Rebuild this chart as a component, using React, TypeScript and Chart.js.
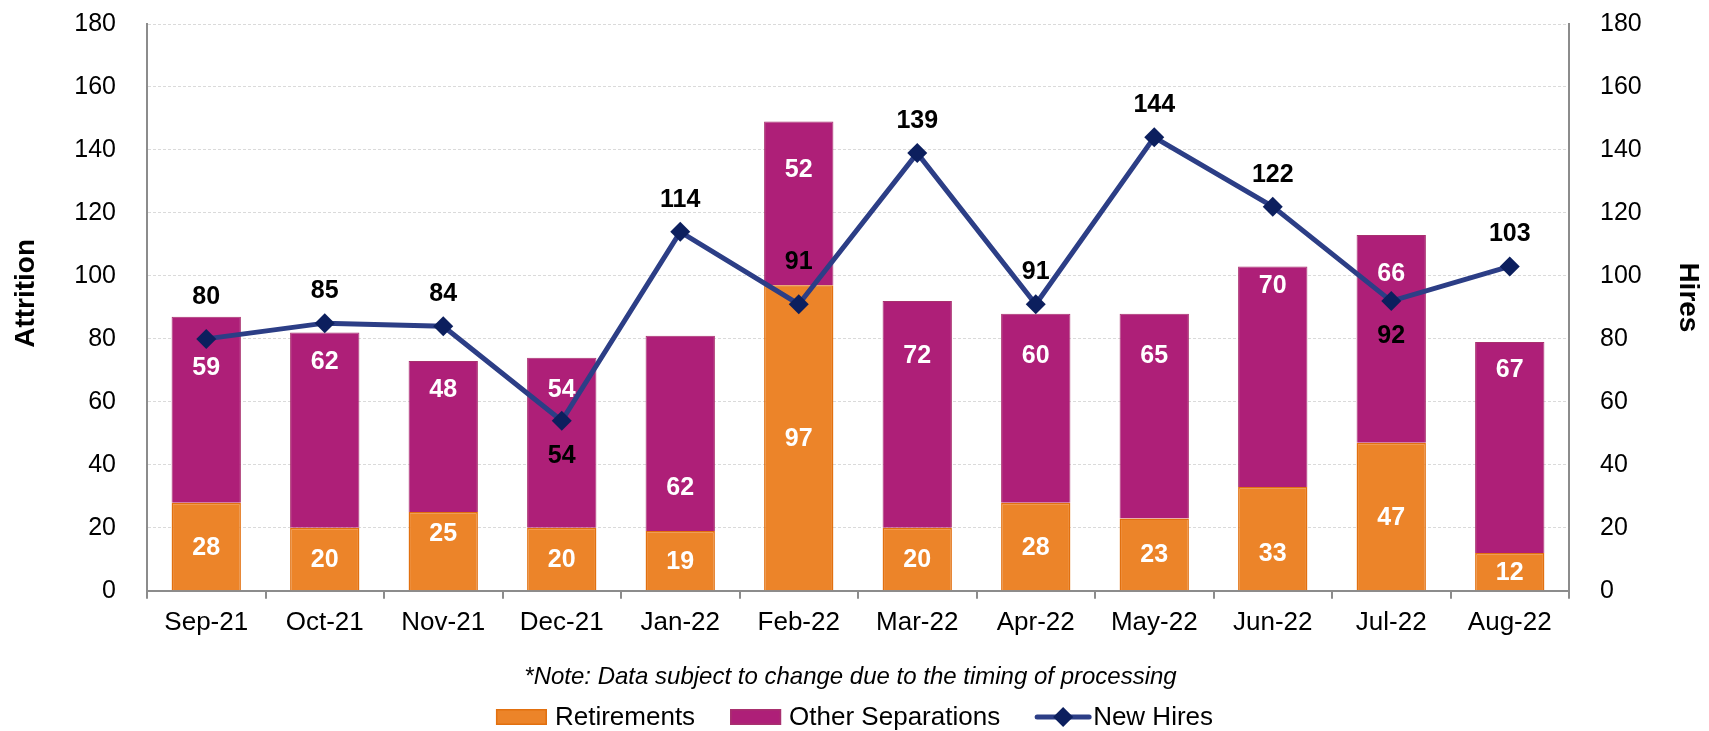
import React, { useEffect, useRef } from 'react';
import { Chart, registerables } from 'chart.js';

Chart.register(...registerables);

// ---- data ----
const categories = ['Sep-21', 'Oct-21', 'Nov-21', 'Dec-21', 'Jan-22', 'Feb-22', 'Mar-22', 'Apr-22', 'May-22', 'Jun-22', 'Jul-22', 'Aug-22'];
const retirements = [28, 20, 25, 20, 19, 97, 20, 28, 23, 33, 47, 12];
const otherSeparations = [59, 62, 48, 54, 62, 52, 72, 60, 65, 70, 66, 67];
const newHires = [80, 85, 84, 54, 114, 91, 139, 91, 144, 122, 92, 103];
const axisMin = 0;
const axisMax = 180;
const axisStep = 20;
// where the value labels sit (in axis units)
const retirementLabelAt = [14, 10, 18.3, 10, 9.5, 48.5, 10, 14, 11.5, 12, 23.5, 6];
const otherLabelAt = [71, 73, 64, 64, 33, 134, 75, 75, 75, 97, 101, 70.5];
const hiresLabelsBelow = ['Dec-21', 'Jul-22'];
const hiresLabelsRaised = ['Sep-21', 'Feb-22'];
const leftAxisTitle = 'Attrition';
const rightAxisTitle = 'Hires';
const noteText = '*Note: Data subject to change due to the timing of processing';

const FONT = "'Liberation Sans', Arial, Helvetica, sans-serif";
const ORANGE = '#EC8429';
const ORANGE_BORDER = '#E2700F';
const PURPLE = '#AE1F78';
const PURPLE_BORDER = '#A8316F';
const NAVY = '#2C3E86';
const NAVY_DARK = '#0C1F5E';

const labelsPlugin = {
  id: 'valueLabels',
  afterDatasetsDraw(chart: any) {
    const ctx = chart.ctx;
    const yScale = chart.scales.y;
    ctx.save();
    ctx.textAlign = 'center';
    ctx.textBaseline = 'middle';
    ctx.font = `bold 25px ${FONT}`;
    chart.data.datasets.forEach((ds: any, di: number) => {
      const meta = chart.getDatasetMeta(di);
      if (meta.hidden) return;
      meta.data.forEach((el: any, i: number) => {
        const v = ds.data[i];
        if (ds.type === 'line') {
          ctx.fillStyle = '#000';
          const cat = categories[i];
          let y = el.y - 32;
          if (hiresLabelsBelow.includes(cat)) y = el.y + 35;
          else if (hiresLabelsRaised.includes(cat)) y = el.y - 42;
          ctx.fillText(String(v), el.x, y);
        } else {
          ctx.fillStyle = '#fff';
          const at = ds.labelAt ? ds.labelAt[i] : null;
          const y = at != null ? yScale.getPixelForValue(at) : (el.y + el.base) / 2;
          ctx.fillText(String(v), el.x, y + 1);
        }
      });
    });
    ctx.restore();
  },
};

const axisTitlesPlugin = {
  id: 'axisTitles',
  afterDraw(chart: any) {
    const ctx = chart.ctx;
    const area = chart.chartArea;
    const midY = (area.top + area.bottom) / 2;
    ctx.save();
    ctx.font = `bold 28px ${FONT}`;
    ctx.fillStyle = '#000';
    ctx.textAlign = 'center';
    ctx.textBaseline = 'middle';
    ctx.save();
    ctx.translate(26, midY - 14);
    ctx.rotate(-Math.PI / 2);
    ctx.fillText(leftAxisTitle, 0, 0);
    ctx.restore();
    ctx.save();
    ctx.translate(chart.width - 21, midY - 10);
    ctx.rotate(Math.PI / 2);
    ctx.fillText(rightAxisTitle, 0, 0);
    ctx.restore();
    ctx.restore();
  },
};

const legendNotePlugin = {
  id: 'legendNote',
  afterDraw(chart: any) {
    const ctx = chart.ctx;
    const cx = chart.width / 2;
    ctx.save();
    // note
    ctx.font = `italic 24px ${FONT}`;
    ctx.fillStyle = '#000';
    ctx.textAlign = 'center';
    ctx.textBaseline = 'middle';
    ctx.fillText(noteText, cx - 4, chart.height - 54);

    // legend
    const ly = chart.height - 14;
    ctx.font = `26px ${FONT}`;
    ctx.textAlign = 'left';
    const items = chart.data.datasets.map((ds: any) => {
      const isLine = ds.type === 'line';
      const sym = isLine ? 56 : 51;
      const gap = isLine ? 2 : 8;
      const tw = ctx.measureText(ds.label).width;
      return { ds, isLine, sym, gap, tw, w: sym + gap + tw };
    });
    const spacing = 35;
    const total = items.reduce((s: number, it: any) => s + it.w, 0) + spacing * (items.length - 1);
    let x = cx - total / 2;
    items.forEach((it: any) => {
      if (it.isLine) {
        ctx.strokeStyle = it.ds.borderColor;
        ctx.lineWidth = 5;
        ctx.lineCap = 'round';
        ctx.beginPath();
        ctx.moveTo(x + 2, ly);
        ctx.lineTo(x + it.sym - 2, ly);
        ctx.stroke();
        const r = 10;
        const mx = x + it.sym / 2;
        ctx.fillStyle = it.ds.pointBackgroundColor;
        ctx.beginPath();
        ctx.moveTo(mx, ly - r);
        ctx.lineTo(mx + r, ly);
        ctx.lineTo(mx, ly + r);
        ctx.lineTo(mx - r, ly);
        ctx.closePath();
        ctx.fill();
      } else {
        ctx.fillStyle = it.ds.backgroundColor;
        ctx.fillRect(x, ly - 8, it.sym, 16);
        ctx.strokeStyle = it.ds.borderColor;
        ctx.lineWidth = 1.5;
        ctx.strokeRect(x + 0.75, ly - 8 + 0.75, it.sym - 1.5, 16 - 1.5);
      }
      ctx.fillStyle = '#000';
      ctx.fillText(it.ds.label, x + it.sym + it.gap, ly + 1);
      x += it.w + spacing;
    });
    ctx.restore();
  },
};

export default function App() {
  const canvasRef = useRef<HTMLCanvasElement | null>(null);

  useEffect(() => {
    if (!canvasRef.current) return;
    Chart.defaults.font.family = FONT;
    const chart = new Chart(canvasRef.current, {
      type: 'bar',
      data: {
        labels: categories,
        datasets: [
          {
            type: 'bar',
            label: 'Retirements',
            data: retirements,
            labelAt: retirementLabelAt,
            yAxisID: 'y',
            stack: 'attrition',
            backgroundColor: ORANGE,
            borderColor: ORANGE_BORDER,
            borderWidth: 1.5,
            barPercentage: 0.585,
            categoryPercentage: 1,
            order: 1,
          } as any,
          {
            type: 'bar',
            label: 'Other Separations',
            data: otherSeparations,
            labelAt: otherLabelAt,
            yAxisID: 'y',
            stack: 'attrition',
            backgroundColor: PURPLE,
            borderColor: PURPLE_BORDER,
            borderWidth: 1,
            barPercentage: 0.585,
            categoryPercentage: 1,
            order: 1,
          } as any,
          {
            type: 'line',
            label: 'New Hires',
            data: newHires,
            yAxisID: 'y1',
            borderColor: NAVY,
            borderWidth: 5,
            backgroundColor: NAVY_DARK,
            pointStyle: 'rectRot',
            pointRadius: 10,
            pointBackgroundColor: NAVY_DARK,
            pointBorderColor: NAVY_DARK,
            pointBorderWidth: 0,
            tension: 0,
            order: 0,
          } as any,
        ],
      },
      options: {
        responsive: false,
        animation: false,
        layout: { autoPadding: false, padding: { top: 24, bottom: 85, left: 0, right: 0 } },
        plugins: {
          legend: { display: false },
          tooltip: { enabled: false },
          title: { display: false },
        },
        scales: {
          x: {
            stacked: true,
            offset: true,
            grid: {
              display: true,
              drawOnChartArea: false,
              drawTicks: true,
              tickLength: 8,
              color: '#8C8C8C',
              lineWidth: 2,
              offset: true,
            },
            border: { display: true, color: '#8C8C8C', width: 2 },
            ticks: { color: '#000', font: { size: 26, family: FONT }, padding: 8, maxRotation: 0, autoSkip: false },
          },
          y: {
            stacked: true,
            position: 'left',
            min: axisMin,
            max: axisMax,
            ticks: { stepSize: axisStep, color: '#000', font: { size: 25, family: FONT }, padding: 31 },
            grid: { color: '#DADADA', lineWidth: 1, drawTicks: false },
            border: { display: true, color: '#8C8C8C', width: 2, dash: [3, 2] },
            title: { display: false },
            afterFit: (s: any) => {
              s.width = 147;
              s.paddingTop = 0;
              s.paddingBottom = 0;
            },
          },
          y1: {
            position: 'right',
            min: axisMin,
            max: axisMax,
            ticks: { stepSize: axisStep, color: '#000', font: { size: 25, family: FONT }, padding: 31 },
            grid: { drawOnChartArea: false, drawTicks: false },
            border: { display: true, color: '#8C8C8C', width: 2 },
            title: { display: false },
            afterFit: (s: any) => {
              s.width = 140;
              s.paddingTop = 0;
              s.paddingBottom = 0;
            },
          },
        },
      } as any,
      plugins: [labelsPlugin, axisTitlesPlugin, legendNotePlugin],
    });
    return () => chart.destroy();
  }, []);

  return (
    <div style={{ position: 'fixed', left: 0, top: 0, width: 1709, height: 731, background: '#fff' }}>
      <canvas ref={canvasRef} width={1709} height={731} style={{ display: 'block' }} />
    </div>
  );
}
